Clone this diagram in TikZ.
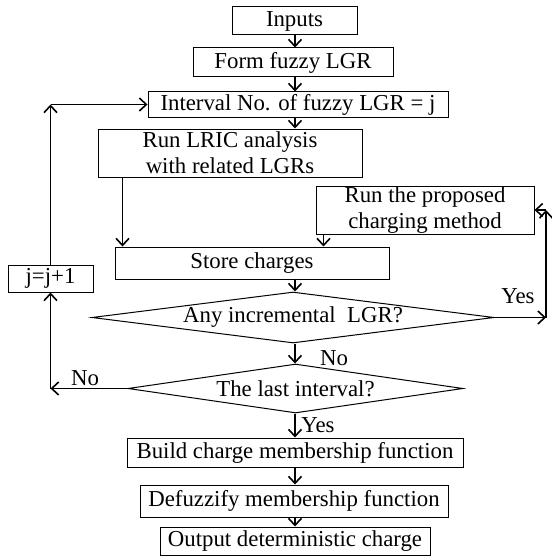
\documentclass[tikz,border=0pt]{standalone}
\usepackage{fontspec}
\setmainfont{Liberation Serif}
\usetikzlibrary{shapes.geometric,arrows.meta}
\tikzset{
  stepbox/.style={draw, line width=0.5pt, inner sep=0pt, align=center},
  decision/.style={draw, diamond, line width=0.5pt, inner sep=0pt},
  flow/.style={line width=0.8pt, -{Straight Barb[length=3.5pt,width=6.5pt]}},
}
\begin{document}
\begin{tikzpicture}[x=0.5pt,y=-0.5pt, font=\fontsize{11.4}{13}\selectfont]
		\useasboundingbox (0,0) rectangle (551,556);
		\coordinate (spine) at (295,0);
		% main column
		\node[stepbox, minimum width=62.5pt, minimum height=14pt] (inputs) at (294.5,21) {Inputs};
		\node[stepbox, minimum width=100pt, minimum height=14.5pt] (form) at (293,62.5) {Form fuzzy LGR};
		\node[stepbox, minimum width=150pt, minimum height=12.5pt] (interval) at (298,104.5) {Interval No. of fuzzy LGR = j};
		\node[stepbox, minimum width=132pt, minimum height=24pt] (lric) at (230,153) {Run LRIC analysis\\with related LGRs};
		\node[stepbox, minimum width=109pt, minimum height=24pt] (charge) at (425,210) {Run the proposed\\charging method};
		\node[stepbox, minimum width=137pt, minimum height=16pt] (store) at (252,263) {Store charges};
		\node[stepbox, minimum width=42.5pt, minimum height=13.5pt] (jnext) at (50.5,278.5) {j=j+1};
		\node[decision, aspect=7.88, minimum width=201pt, minimum height=25.5pt] (anyinc) at (293,317.5) {Any incremental\ \ LGR?};
		\node[decision, aspect=6.84, minimum width=167.5pt, minimum height=24.5pt] (last) at (295.5,388.5) {The last interval?};
		\node[stepbox, minimum width=168pt, minimum height=14.5pt] (build) at (295,452.5) {Build charge membership function};
		\node[stepbox, minimum width=154pt, minimum height=16pt] (defuzz) at (294,501) {Defuzzify membership function};
		\node[stepbox, minimum width=135pt, minimum height=14pt] (output) at (295,541) {Output deterministic charge};
		% branch labels
		\node (yesa) at (518,296) {Yes};
		\node (noa) at (334,358) {No};
		\node (nob) at (85,378) {No};
		\node (yesb) at (318,425) {Yes};
		% arrows down the column
		\draw[flow] (spine |- inputs.south) -- (spine |- form.north);
		\draw[flow] (spine |- form.south) -- (spine |- interval.north);
		\draw[flow] (spine |- interval.south) -- (spine |- lric.north);
		\draw[flow] ([xshift=12.5pt]lric.south west) -- ([xshift=12.5pt]lric.south west |- store.north);
		\draw[flow] ([xshift=4pt]charge.south west) -- ([xshift=4pt]charge.south west |- store.north);
		\draw[flow] (spine |- store.south) -- (spine |- anyinc.north);
		\draw[flow] (spine |- anyinc.south) -- (spine |- last.north);
		\draw[flow] (spine |- last.south) -- (spine |- build.north);
		\draw[flow] (spine |- build.south) -- (spine |- defuzz.north);
		\draw[flow] (spine |- defuzz.south) -- (spine |- output.north);
		% yes loop to the charging method
		\coordinate (yesup) at (546,210);
		\draw[flow] (anyinc.east) -- (anyinc.east -| yesup);
		\draw[flow] (anyinc.east -| yesup) -- (yesup);
		\draw[flow] (yesup) -- (charge.east);
		% no loop back to the interval
		\draw[flow] (last.west) -- (last.west -| jnext.south);
		\draw[flow] (last.west -| jnext.south) -- (jnext.south);
		\draw[flow] (jnext.north) -- (jnext.north |- interval.west);
		\draw[flow] (jnext.north |- interval.west) -- (interval.west);
\end{tikzpicture}
\end{document}
